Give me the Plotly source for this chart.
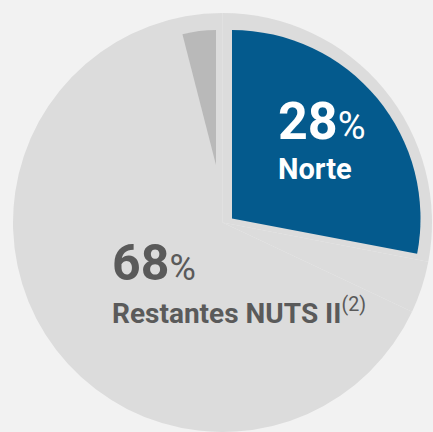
import plotly.graph_objects as go

# Shares by NUTS II region (%)
regions = ['Norte', 'Restantes NUTS II', 'Outros']
shares = [28, 68, 4]
pct_labels = ['28%', '68%', '4%']

BLUE = '#045a8d'
LIGHT = '#dcdcdc'
MID = '#b9b9b9'
TEXT_GREY = '#5a5a5a'
NONE = 'rgba(0,0,0,0)'

W, H = 433, 432


def px_x(x0, x1):
    return [x0 / W, min(x1 / W, 1.0)]


def px_y(top, bottom):
    return [max(1 - bottom / H, 0.0), 1 - top / H]


fig = go.Figure()

# full background disc (the "Restantes" slice fills it)
fig.add_trace(go.Pie(
    labels=regions, values=shares, sort=False,
    marker=dict(colors=[LIGHT] * 3, line=dict(width=0)),
    textinfo='none', hoverinfo='skip', showlegend=False,
    domain=dict(x=px_x(12, 433), y=px_y(13, 432)),
))

# Norte slice, drawn on its own (clockwise from 12 o'clock)
fig.add_trace(go.Pie(
    labels=['Norte', 'resto'], values=[shares[0], shares[1] + shares[2]],
    sort=False, direction='clockwise', rotation=0,
    marker=dict(colors=[BLUE, NONE], line=dict(width=0)),
    textinfo='none', hoverinfo='skip', showlegend=False,
    domain=dict(x=px_x(43.5, 420.5), y=px_y(30, 407)),
))

# small remaining slice, ending at 12 o'clock
fig.add_trace(go.Pie(
    labels=['resto', 'Outros'], values=[shares[0] + shares[1], shares[2]],
    sort=False, direction='clockwise', rotation=0,
    marker=dict(colors=[NONE, MID], line=dict(width=0)),
    textinfo='none', hoverinfo='skip', showlegend=False,
    domain=dict(x=px_x(81, 351), y=px_y(30, 300)),
))

num_font = 'Roboto'
lbl_font = 'Roboto'


def pct_html(p, size):
    return "<b>%s</b><span style='font-size:%dpx'>%%</span>" % (p[:-1], size)


annots = [
    dict(text=pct_html(pct_labels[0], 38), x=276, y=121.5,
         font=dict(family=num_font, size=52, color='white')),
    dict(text='<b>' + regions[0] + '</b>', x=276, y=169,
         font=dict(family=lbl_font, size=29, color='white')),
    dict(text=pct_html(pct_labels[1], 36), x=110, y=262.5,
         font=dict(family=num_font, size=50, color=TEXT_GREY)),
    dict(text='<b>' + regions[1] + '</b><sup>(2)</sup>', x=110, y=311,
         font=dict(family=lbl_font, size=28, color=TEXT_GREY)),
]
for a in annots:
    fig.add_annotation(
        text=a['text'], x=a['x'] / W, y=1 - a['y'] / H,
        xref='paper', yref='paper', xanchor='left', yanchor='middle',
        showarrow=False, font=a['font'],
    )

fig.update_layout(
    width=W, height=H,
    margin=dict(l=0, r=0, t=0, b=0),
    paper_bgcolor='#f2f2f2',
    plot_bgcolor='#f2f2f2',
)

fig.write_html('out.html', config={'displayModeBar': False},
               post_script="document.body.style.margin='0';")
